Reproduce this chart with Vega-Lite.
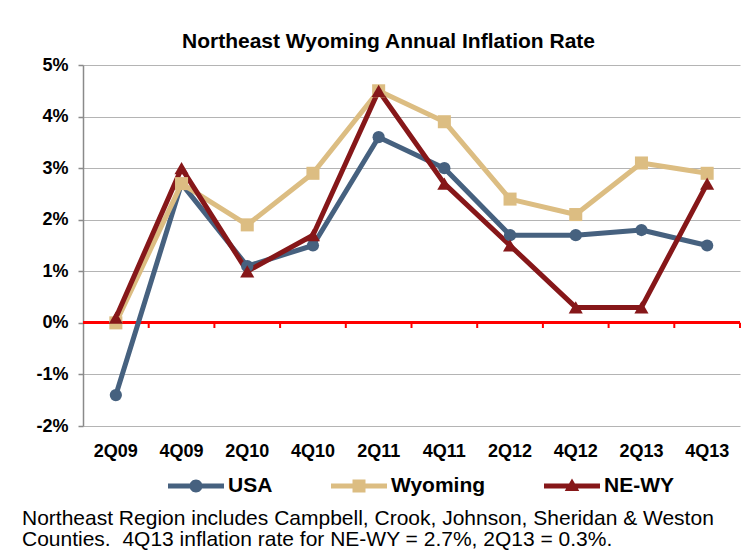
{
  "$schema": "https://vega.github.io/schema/vega-lite/v6.json",
  "background": "white",
  "padding": {"left": 21, "top": 31, "right": 5, "bottom": 2},
  "title": {
    "text": [
      "Northeast Region includes Campbell, Crook, Johnson, Sheridan & Weston",
      "Counties.\u00a0 4Q13 inflation rate for NE-WY = 2.7%, 2Q13 = 0.3%."
    ],
    "orient": "bottom",
    "anchor": "start",
    "frame": "bounds",
    "font": "Liberation Sans",
    "fontSize": 21,
    "fontWeight": "normal",
    "color": "black",
    "lineHeight": 21,
    "baseline": "top",
    "offset": 12,
    "dx": -14
  },
  "config": {
    "font": "Liberation Sans",
    "view": {"stroke": null},
    "concat": {"spacing": 0}
  },
  "data": {
    "values": [
      {"q": "2Q09", "s": "USA", "v": -1.4},
      {"q": "4Q09", "s": "USA", "v": 2.7},
      {"q": "2Q10", "s": "USA", "v": 1.1},
      {"q": "4Q10", "s": "USA", "v": 1.5},
      {"q": "2Q11", "s": "USA", "v": 3.6},
      {"q": "4Q11", "s": "USA", "v": 3.0},
      {"q": "2Q12", "s": "USA", "v": 1.7},
      {"q": "4Q12", "s": "USA", "v": 1.7},
      {"q": "2Q13", "s": "USA", "v": 1.8},
      {"q": "4Q13", "s": "USA", "v": 1.5},
      {"q": "2Q09", "s": "Wyoming", "v": 0.0},
      {"q": "4Q09", "s": "Wyoming", "v": 2.7},
      {"q": "2Q10", "s": "Wyoming", "v": 1.9},
      {"q": "4Q10", "s": "Wyoming", "v": 2.9},
      {"q": "2Q11", "s": "Wyoming", "v": 4.5},
      {"q": "4Q11", "s": "Wyoming", "v": 3.9},
      {"q": "2Q12", "s": "Wyoming", "v": 2.4},
      {"q": "4Q12", "s": "Wyoming", "v": 2.1},
      {"q": "2Q13", "s": "Wyoming", "v": 3.1},
      {"q": "4Q13", "s": "Wyoming", "v": 2.9},
      {"q": "2Q09", "s": "NE-WY", "v": 0.1},
      {"q": "4Q09", "s": "NE-WY", "v": 3.0},
      {"q": "2Q10", "s": "NE-WY", "v": 1.0},
      {"q": "4Q10", "s": "NE-WY", "v": 1.7},
      {"q": "2Q11", "s": "NE-WY", "v": 4.5},
      {"q": "4Q11", "s": "NE-WY", "v": 2.7},
      {"q": "2Q12", "s": "NE-WY", "v": 1.5},
      {"q": "4Q12", "s": "NE-WY", "v": 0.3},
      {"q": "2Q13", "s": "NE-WY", "v": 0.3},
      {"q": "4Q13", "s": "NE-WY", "v": 2.7}
    ]
  },
  "vconcat": [
    {
      "width": 657,
      "height": 361,
      "title": {
        "text": "Northeast Wyoming Annual Inflation Rate",
        "orient": "top",
        "frame": "bounds",
        "font": "Liberation Sans",
        "fontSize": 21,
        "fontWeight": "bold",
        "color": "black",
        "anchor": "middle",
        "offset": 4
      },
      "encoding": {
        "x": {
          "field": "q",
          "type": "nominal",
          "sort": ["2Q09", "4Q09", "2Q10", "4Q10", "2Q11", "4Q11", "2Q12", "4Q12", "2Q13", "4Q13"],
          "scale": {"type": "band", "paddingInner": 0, "paddingOuter": 0},
          "axis": {
            "title": null,
            "labelAngle": 0,
            "labelFont": "Liberation Sans",
            "labelFontSize": 18,
            "labelFontWeight": "bold",
            "labelColor": "black",
            "labelPadding": 16,
            "domain": false,
            "ticks": false,
            "tickSize": 0,
            "grid": false
          }
        },
        "y": {
          "field": "v",
          "type": "quantitative",
          "scale": {"domain": [-2, 5], "nice": false, "zero": false},
          "axis": {
            "title": null,
            "values": [-2, -1, 0, 1, 2, 3, 4, 5],
            "labelExpr": "datum.value + '%'",
            "labelFont": "Liberation Sans",
            "labelFontSize": 18,
            "labelFontWeight": "bold",
            "labelColor": "black",
            "labelPadding": 10,
            "tickSize": 5,
            "tickColor": "#8a8a8a",
            "tickWidth": 1.5,
            "domainColor": "#8a8a8a",
            "domainWidth": 1.5,
            "gridColor": "#b4b4b4",
            "gridWidth": 1.2
          }
        }
      },
      "layer": [
        {
          "mark": {"type": "rule", "color": "#ff0000", "strokeWidth": 2},
          "encoding": {"y": {"datum": 0}, "x": null}
        },
        {
          "transform": [{"filter": "datum.s === 'USA'"}],
          "mark": {"type": "rule", "color": "#ff0000", "strokeWidth": 2},
          "encoding": {
            "x": {"field": "q", "type": "nominal", "bandPosition": 1, "sort": ["2Q09", "4Q09", "2Q10", "4Q10", "2Q11", "4Q11", "2Q12", "4Q12", "2Q13", "4Q13"]},
            "y": {"datum": 0},
            "y2": {"datum": -0.1}
          }
        },
        {
          "mark": {"type": "line", "strokeWidth": 5, "strokeJoin": "round", "strokeCap": "round"},
          "encoding": {
            "color": {
              "field": "s",
              "type": "nominal",
              "scale": {"domain": ["USA", "Wyoming", "NE-WY"], "range": ["#46617f", "#dcbd82", "#861719"]},
              "legend": {
                "orient": "none",
                "legendX": 85,
                "legendY": 393,
                "direction": "horizontal",
                "title": null,
                "labelFont": "Liberation Sans",
                "labelFontSize": 21,
                "labelFontWeight": "bold",
                "labelColor": "black",
                "symbolSize": 3136,
                "labelOffset": 4,
                "columnPadding": 58,
                "encode": {
                  "symbols": {
                    "update": {
                      "shape": {"signal": "datum.value === 'USA' ? 'M-1,-0.09H1V0.09H-1Z M0.232,0A0.232,0.232 0 1,1 -0.232,0A0.232,0.232 0 1,1 0.232,0Z' : datum.value === 'Wyoming' ? 'M-1,-0.09H1V0.09H-1Z M-0.232,-0.232H0.232V0.232H-0.232Z' : 'M-1,-0.09H1V0.09H-1Z M0,-0.27L0.26,0.18H-0.26Z'"},
                      "fill": {"signal": "datum.value === 'USA' ? '#46617f' : datum.value === 'Wyoming' ? '#dcbd82' : '#861719'"},
                      "size": {"value": 3136},
                      "strokeWidth": {"value": 0},
                      "opacity": {"value": 1}
                    }
                  }
                }
              }
            }
          }
        },
        {
          "transform": [{"filter": "datum.s === 'USA'"}],
          "mark": {"type": "point", "shape": "circle", "filled": true, "opacity": 1, "size": 150, "color": "#46617f"}
        },
        {
          "transform": [{"filter": "datum.s === 'Wyoming'"}],
          "mark": {"type": "point", "shape": "square", "filled": true, "opacity": 1, "size": 170, "color": "#dcbd82"}
        },
        {
          "transform": [{"filter": "datum.s === 'NE-WY'"}],
          "mark": {"type": "point", "shape": "triangle-up", "filled": true, "opacity": 1, "size": 200, "color": "#861719"}
        }
      ]
    }
  ]
}
